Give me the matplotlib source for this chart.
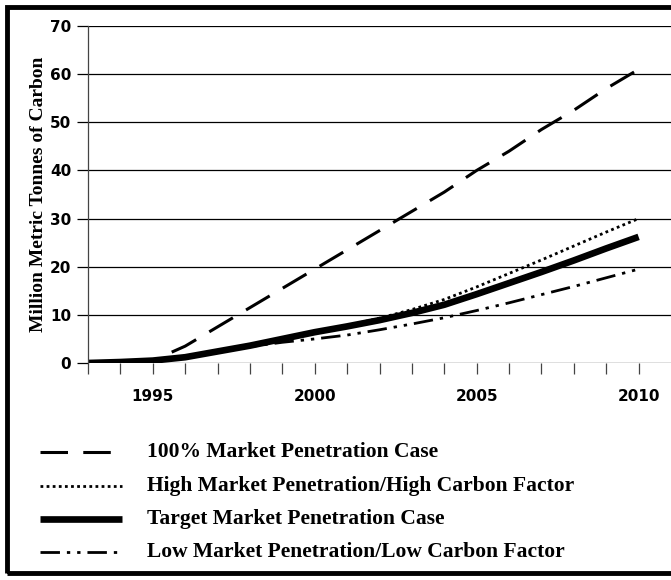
import matplotlib.pyplot as plt
from matplotlib.lines import Line2D
from matplotlib.patches import Rectangle

years = list(range(1993, 2011))
full_pen = [0, 0.2, 0.5, 3.5, 7.5, 11.5, 15.5, 19.5, 23.5, 27.5, 31.5, 35.5, 40, 44, 48.5, 52.5, 57, 61]
high_pen = [0, 0.2, 0.5, 1.2, 2.4, 3.6, 5.0, 6.5, 7.8, 9.3, 11.1, 13.2, 15.8, 18.6, 21.4, 24.3, 27.2, 30.0]
target_pen = [0, 0.2, 0.5, 1.2, 2.4, 3.6, 5.0, 6.4, 7.6, 8.9, 10.4, 12.1, 14.3, 16.6, 18.9, 21.3, 23.8, 26.2]
low_pen = [0, 0.2, 0.5, 1.2, 2.3, 3.4, 4.3, 5.0, 5.8, 6.9, 8.1, 9.4, 10.9, 12.5, 14.2, 15.9, 17.7, 19.5]
labels = ['100% Market Penetration Case',
          'High Market Penetration/High Carbon Factor',
          'Target Market Penetration Case',
          'Low Market Penetration/Low Carbon Factor']

W, H = 671, 580
fig = plt.figure(figsize=(W / 100, H / 100), dpi=100)
ax = fig.add_axes([88 / W, 1 - 363 / H, (W - 88) / W, (363 - 26) / H])

styles = [dict(lw=2.2, dashes=(9, 5)),
          dict(lw=2.0, dashes=(1, 1.2), dash_capstyle='butt'),
          dict(lw=4.8, solid_capstyle='butt'),
          dict(lw=2.0, dashes=(7, 2.5, 1.2, 2.5, 1.2, 2.5), dash_capstyle='butt')]

for vals, st in zip([full_pen, high_pen, target_pen, low_pen], styles):
    ax.plot(years, vals, color='black', **st)

ax.set_xlim(1993, 2011)
ax.set_ylim(0, 70)
ax.set_yticks(range(0, 71, 10))
ax.set_xticks(range(1993, 2011))
ax.set_xticklabels([str(y) if y % 5 == 0 else '' for y in years])
ax.yaxis.grid(True, color='black', lw=0.9)
ax.set_axisbelow(True)
for s in ['top', 'right', 'bottom']:
    ax.spines[s].set_visible(False)
ax.spines['left'].set_color('#444444')
ax.spines['left'].set_linewidth(0.9)
ax.tick_params(axis='y', length=8, width=0.9, color='black', pad=4)
ax.tick_params(axis='x', length=8, width=0.9, color='#444444', pad=11)
for t in ax.get_xticklabels() + ax.get_yticklabels():
    t.set_fontweight('bold')
    t.set_fontsize(11)
    t.set_family('DejaVu Sans')
ax.set_ylabel('Million Metric Tonnes of Carbon', family='Liberation Serif',
              fontweight='bold', fontsize=14, labelpad=2)

# legend drawn by hand below the axes
rows = [452, 486, 519, 552]
for y, st, lab in zip(rows, styles, labels):
    fy = 1 - y / H
    fig.add_artist(Line2D([40 / W, 122 / W], [fy, fy], color='black', **st))
    fig.text(147 / W, fy, lab, family='Liberation Serif', fontweight='bold',
             fontsize=15.5, va='center', ha='left')

# outer frame
fig.add_artist(Rectangle((7 / W, 7 / H), 1.2, 1 - 14 / H, transform=fig.transFigure,
                         fill=False, lw=3.5, ec='black'))

fig.savefig('out.png', dpi=100)
